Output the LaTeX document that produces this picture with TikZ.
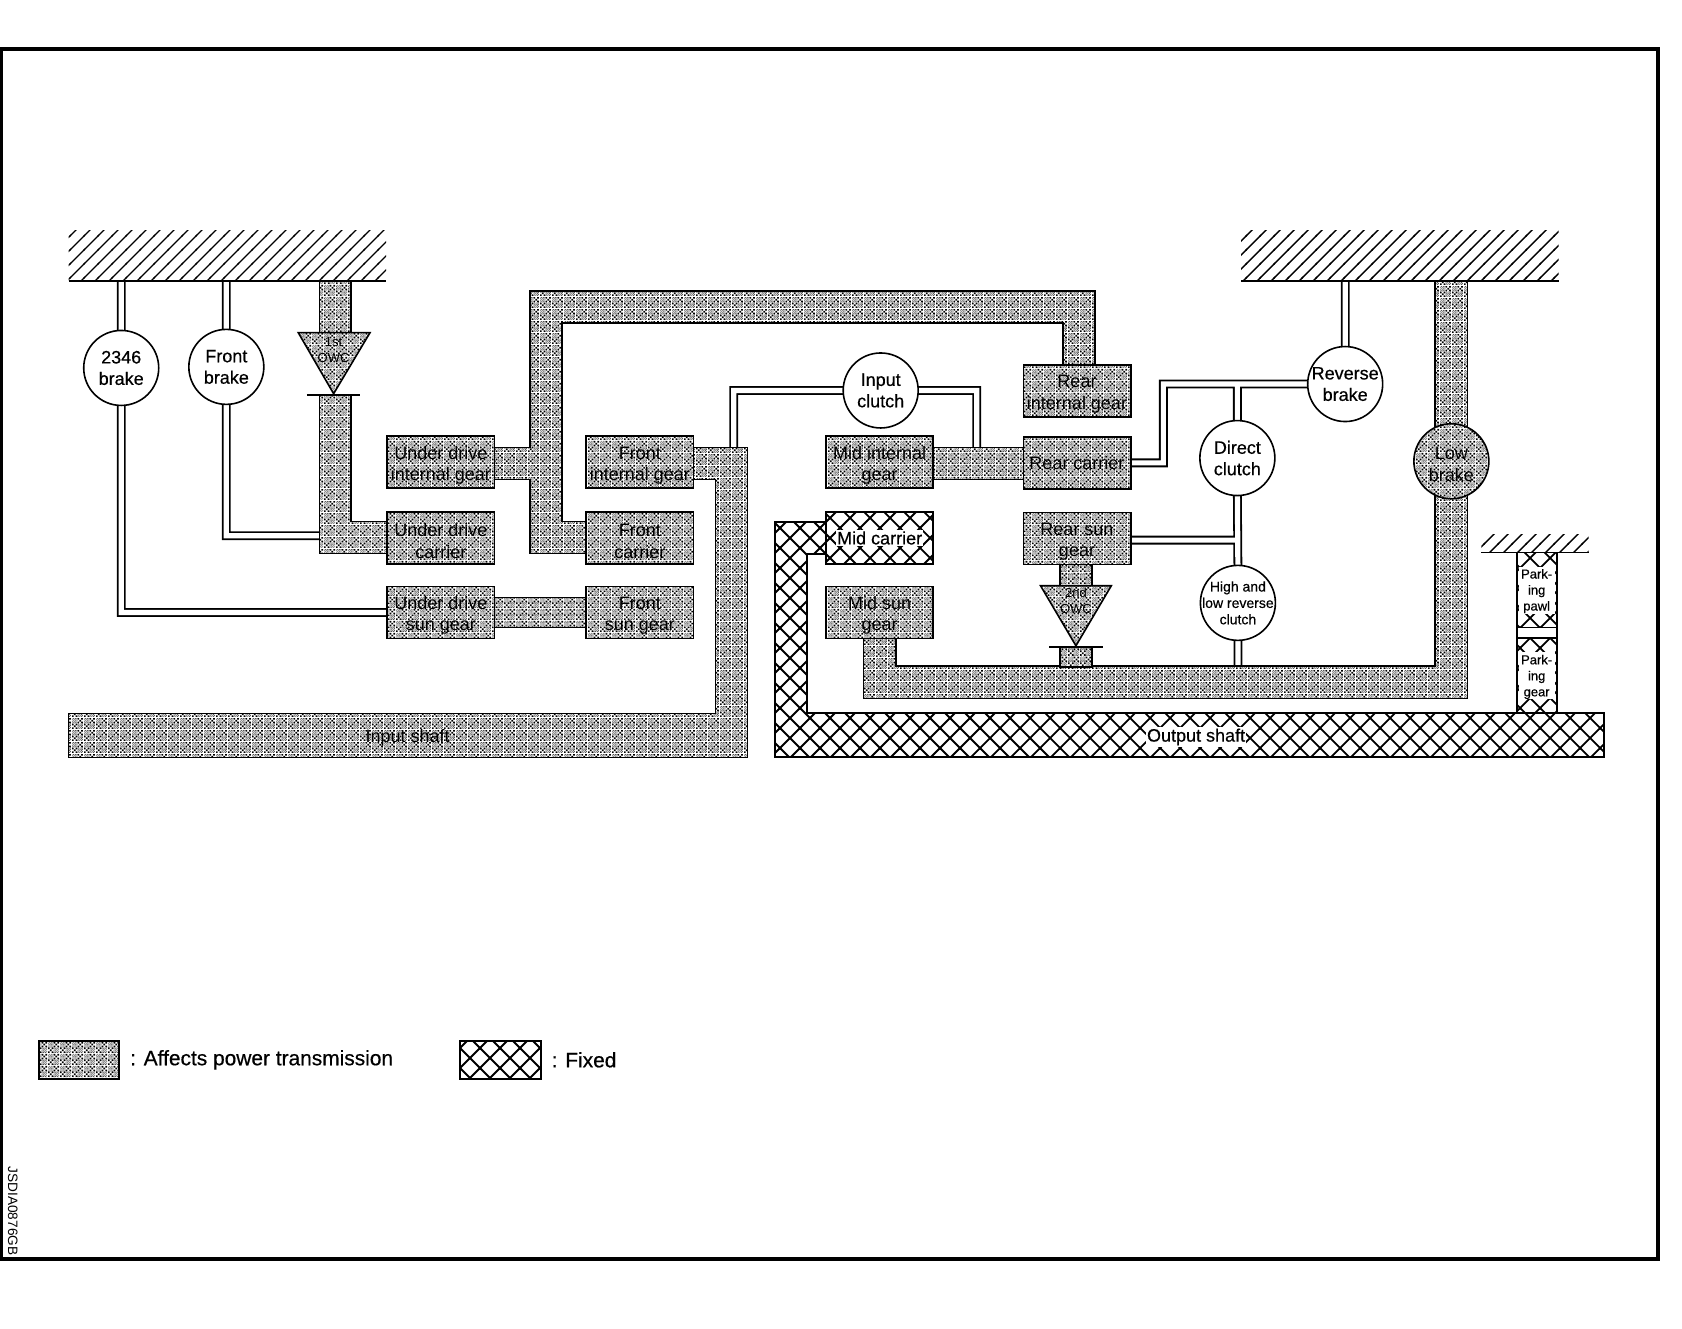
\documentclass[tikz,border=0pt]{standalone}
\usepackage{fontspec}
\setmainfont{Liberation Sans}
\newfontfamily\semifont{Liberation Sans}[FakeBold=0.5]
\usetikzlibrary{patterns,backgrounds,calc}
\pgfdeclarepatternformonly{stip}{\pgfqpoint{0pt}{0pt}}{\pgfqpoint{6pt}{6pt}}{\pgfqpoint{6pt}{6pt}}{%
  \foreach \i in {0,1,2}{\foreach \j in {0,1,2}{%
    \pgfmathtruncatemacro{\p}{mod(\i+\j,2)}%
    \ifnum\p=0
      \pgfpathrectangle{\pgfqpoint{\i pt}{\j pt}}{\pgfqpoint{.92pt}{.92pt}}%
      \pgfpathrectangle{\pgfpoint{\i pt+3pt}{\j pt+3pt}}{\pgfqpoint{.92pt}{.92pt}}%
      \pgfusepath{fill}%
    \fi
  }}%
  \foreach \i in {0,...,5}{\foreach \j in {0,...,5}{%
    \pgfmathtruncatemacro{\p}{mod(\i+\j,2)}%
    \ifnum\p=0
      \pgfpathrectangle{\pgfpoint{\i*0.5pt+3pt}{\j*0.5pt}}{\pgfqpoint{.4pt}{.4pt}}%
      \pgfpathrectangle{\pgfpoint{\i*0.5pt}{\j*0.5pt+3pt}}{\pgfqpoint{.4pt}{.4pt}}%
      \pgfusepath{fill}%
    \fi
  }}%
}
\pgfdeclarepatternformonly{xhatch}{\pgfqpoint{-.5pt}{-.5pt}}{\pgfqpoint{10.5pt}{10.5pt}}{\pgfqpoint{10pt}{10pt}}{%
  \pgfsetlinewidth{0.9pt}%
  \pgfpathmoveto{\pgfqpoint{-.5pt}{-.5pt}}\pgfpathlineto{\pgfqpoint{10.5pt}{10.5pt}}%
  \pgfpathmoveto{\pgfqpoint{-.5pt}{10.5pt}}\pgfpathlineto{\pgfqpoint{10.5pt}{-.5pt}}%
  \pgfusepath{stroke}%
}
\pgfdeclarepatternformonly{ghatch}{\pgfqpoint{-.5pt}{-.5pt}}{\pgfqpoint{7.5pt}{7.5pt}}{\pgfqpoint{7pt}{7pt}}{%
  \pgfsetlinewidth{0.7pt}%
  \pgfpathmoveto{\pgfqpoint{-.5pt}{-.5pt}}\pgfpathlineto{\pgfqpoint{7.5pt}{7.5pt}}%
  \pgfusepath{stroke}%
}
\newcommand\halo[1]{{\setlength{\fboxsep}{0.6pt}\colorbox{white}{#1}}}
\newcommand\parklabel[3]{{\setlength{\fboxsep}{0pt}\colorbox{white}{\parbox{18pt}{\centering\rule{0pt}{6pt}#1\\#2\\#3\rule[-1.5pt]{0pt}{1.5pt}}}}}
\newcommand\firstline{\rule{0pt}{9.5pt}}
\tikzset{
  x=0.53635pt,y=-0.53635pt,
  txt/.style={font=\fontsize{9}{10.7}\selectfont,align=center},
  stipfill/.style={preaction={fill=white},pattern=stip},
  xfill/.style={preaction={fill=white},pattern=xhatch},
  gbox/.style={txt,draw,line width=0.9pt,inner sep=0pt,outer sep=0pt,minimum width=53.6pt,minimum height=26pt,stipfill},
  xbox/.style={gbox,xfill},
  clutch/.style={txt,circle,draw,fill=white,line width=0.8pt,inner sep=0pt,outer sep=0pt,minimum size=37.5pt,font=\semifont\fontsize{9}{10.7}\selectfont},
  band/.style={draw,line width=0.8pt,stipfill},
  xband/.style={draw,line width=1pt,xfill},
  ground/.style={pattern=ghatch,inner sep=0pt,outer sep=0pt},
  gline/.style={line width=0.9pt},
  dblout/.style={line width=4.4pt},
  dblin/.style={line width=2.6pt,white},
  smalltxt/.style={font=\fontsize{6.5}{8}\selectfont,align=center,inner sep=0pt},
  legendtxt/.style={font=\semifont\fontsize{10.45}{12}\selectfont,anchor=west,inner sep=0pt},
  parkbox/.style={xbox,minimum width=20pt,minimum height=37.5pt,font=\semifont\fontsize{6.5}{8}\selectfont},
}
\begin{document}
\begin{tikzpicture}
\useasboundingbox (0,0) rectangle (1568,1238);
\draw[line width=2pt] (1,46) rectangle (1546,1174);
% grounds
\node[ground,minimum width=158.7pt,minimum height=25.2pt] (gl) at (212,238.5) {};
\node[ground,minimum width=158.7pt,minimum height=25.2pt] (gr) at (1305,238.5) {};
\node[ground,minimum width=53.6pt,minimum height=9.1pt] (gp) at (1431,506.5) {};
\draw[gline] (gl.south west) -- (gl.south east);
\draw[gline] (gr.south west) -- (gr.south east);
\draw[gline] (gp.south west) -- (gp.south east);
% clutches
\node[clutch] (b2346) at (113,343) {2346\\brake};
\node[clutch] (fb) at (211,342) {Front\\brake};
\node[clutch] (ic) at (821,364) {Input\\clutch};
\node[clutch] (rb) at (1254,358) {Reverse\\brake};
\node[clutch] (dc) at (1153.5,427) {Direct\\clutch};
\node[clutch,inner sep=-4pt,font=\semifont\fontsize{7}{8.2}\selectfont] (hc) at (1154,562) {High and\\low reverse\\clutch};
\node[clutch,stipfill,font=\fontsize{9}{10.7}\selectfont] (lb) at (1353,430) {\firstline Low\\brake};
% gear boxes
\node[gbox] (udi) at (411,431) {\firstline Under drive\\internal gear};
\node[gbox] (udc) at (411,501.5) {\firstline Under drive\\carrier};
\node[gbox] (uds) at (411,571) {\firstline Under drive\\sun gear};
\node[gbox] (fi) at (596.5,431) {\firstline Front\\internal gear};
\node[gbox] (fc) at (596.5,501.5) {\firstline Front\\carrier};
\node[gbox] (fs) at (596.5,571) {\firstline Front\\sun gear};
\node[gbox] (mi) at (820,431) {\firstline Mid internal\\gear};
\node[xbox,font=\semifont\fontsize{9}{10.7}\selectfont] (mc) at (820,501.5) {\halo{Mid carrier}};
\node[gbox] (ms) at (820,571) {\firstline Mid sun\\gear};
\node[gbox] (ri) at (1004,364.5) {\firstline Rear\\internal gear};
\node[gbox] (rc) at (1004,431.5) {Rear carrier};
\node[gbox] (rs) at (1004,502) {\firstline Rear sun\\gear};
% parking
\node[parkbox] (pp) at (1432.5,550) {\parklabel{Park-}{ing}{pawl}};
\node[parkbox] (pg) at (1432.5,630) {\parklabel{Park-}{ing}{gear}};
\draw[line width=0.9pt] (pp.south west) rectangle (pg.north east);
% shaft labels
\node[txt,inner sep=0pt] (inshaft) at (380,688) {Input shaft};
\node[txt,inner sep=0pt,font=\semifont\fontsize{9}{10.7}\selectfont] (outshaft) at (1115,687) {\halo{Output shaft}};
% one way clutches
\node[smalltxt] (owc1) at (311,326) {1st\\OWC};
\node[smalltxt] (owc2) at (1003,560) {2nd\\OWC};
\coordinate (bar1) at (300,499.5);
\coordinate (cL) at (684,420);
\coordinate (cR) at (910.5,420);
\coordinate (j1) at (1084.5,358);
\coordinate (jb) at (1154,625);
\def\dblpaths{
  (b2346.north) -- (b2346.north |- gl.south)
  (b2346.south) |- (uds.west)
  (fb.north) -- (fb.north |- gl.south)
  (fb.south) |- (bar1)
  (rb.north) -- (rb.north |- gr.south)
  (ic.west) -| (cL)
  (ic.east) -| (cR)
  (rc.east) -| (j1) -- (rb.west)
  (dc.north) -- (dc.north |- rb.west)
  (dc.south) -- (hc.north)
  (rs.east |- 0,503.5) -- (dc.south |- 0,503.5)
  (hc.south) -- (jb)
}
\begin{scope}[on background layer]
  \draw[dblout] \dblpaths;
  \draw[dblin] \dblpaths;
  % 1st OWC bars
  \path[band] (298,262) rectangle (327,310);
  \path[band] (327,368) -- (327,486) -- (udc.west |- 0,486) -- (udc.west |- 0,516) -- (298,516) -- (298,368) -- cycle;
  % under drive internal / front carrier / rear internal
  \path[band] (udi.east |- 0,417) -- (494,417) -- (494,271) -- (1021,271) -- (1021,341) -- (991,341) -- (991,301) -- (524,301) -- (524,486) -- (fc.west |- 0,486) -- (fc.west |- 0,516) -- (494,516) -- (494,447) -- (udi.east |- 0,447) -- cycle;
  % under drive sun - front sun
  \path[band] (uds.east |- 0,557) rectangle (fs.west |- 0,585);
  % input shaft
  \path[band] (fi.east |- 0,417) -- (697,417) -- (697,706) -- (64,706) -- (64,665) -- (667,665) -- (667,447) -- (fi.east |- 0,447) -- cycle;
  % mid internal - rear carrier
  \path[band] (mi.east |- 0,417) rectangle (rc.west |- 0,447);
  % low brake, mid sun
  \path[band] (1338,262) -- (1368,262) -- (1368,651) -- (805,651) -- (805,595) -- (835,595) -- (835,621) -- (1338,621) -- cycle;
  % 2nd OWC
  \path[band] (988,526) rectangle (1018,546);
  \path[band] (988,603) rectangle (1018,621.5);
  \path[band,line join=miter] (278,310) -- (345,310) -- (311,367) -- cycle;
  \path[band,line join=miter] (970,546) -- (1036,546) -- (1003,602) -- cycle;
  % output shaft
  \path[xband] (mc.west |- 0,487) -- (722,487) -- (722,706) -- (1495,706) -- (1495,665) -- (752,665) -- (752,516) -- (mc.west |- 0,516) -- cycle;
\end{scope}
\draw[gline] (286,368) -- (336,368);
\draw[gline] (978,603) -- (1028,603);
% legend
\node[draw,line width=1pt,stipfill,minimum width=40.2pt,minimum height=19.3pt,inner sep=0pt] (leg1) at (73.5,988) {};
\node[legendtxt] (legt1) at (121,988) {: Affects power transmission};
\node[draw,line width=1pt,xfill,minimum width=40.2pt,minimum height=19.3pt,inner sep=0pt] (leg2) at (466.5,988) {};
\node[legendtxt] (legt2) at (514,988) {: Fixed};
\node[rotate=-90,font=\fontsize{6.8}{8}\selectfont,inner sep=0pt] (code) at (12,1129) {JSDIA0876GB};
\end{tikzpicture}
\end{document}
